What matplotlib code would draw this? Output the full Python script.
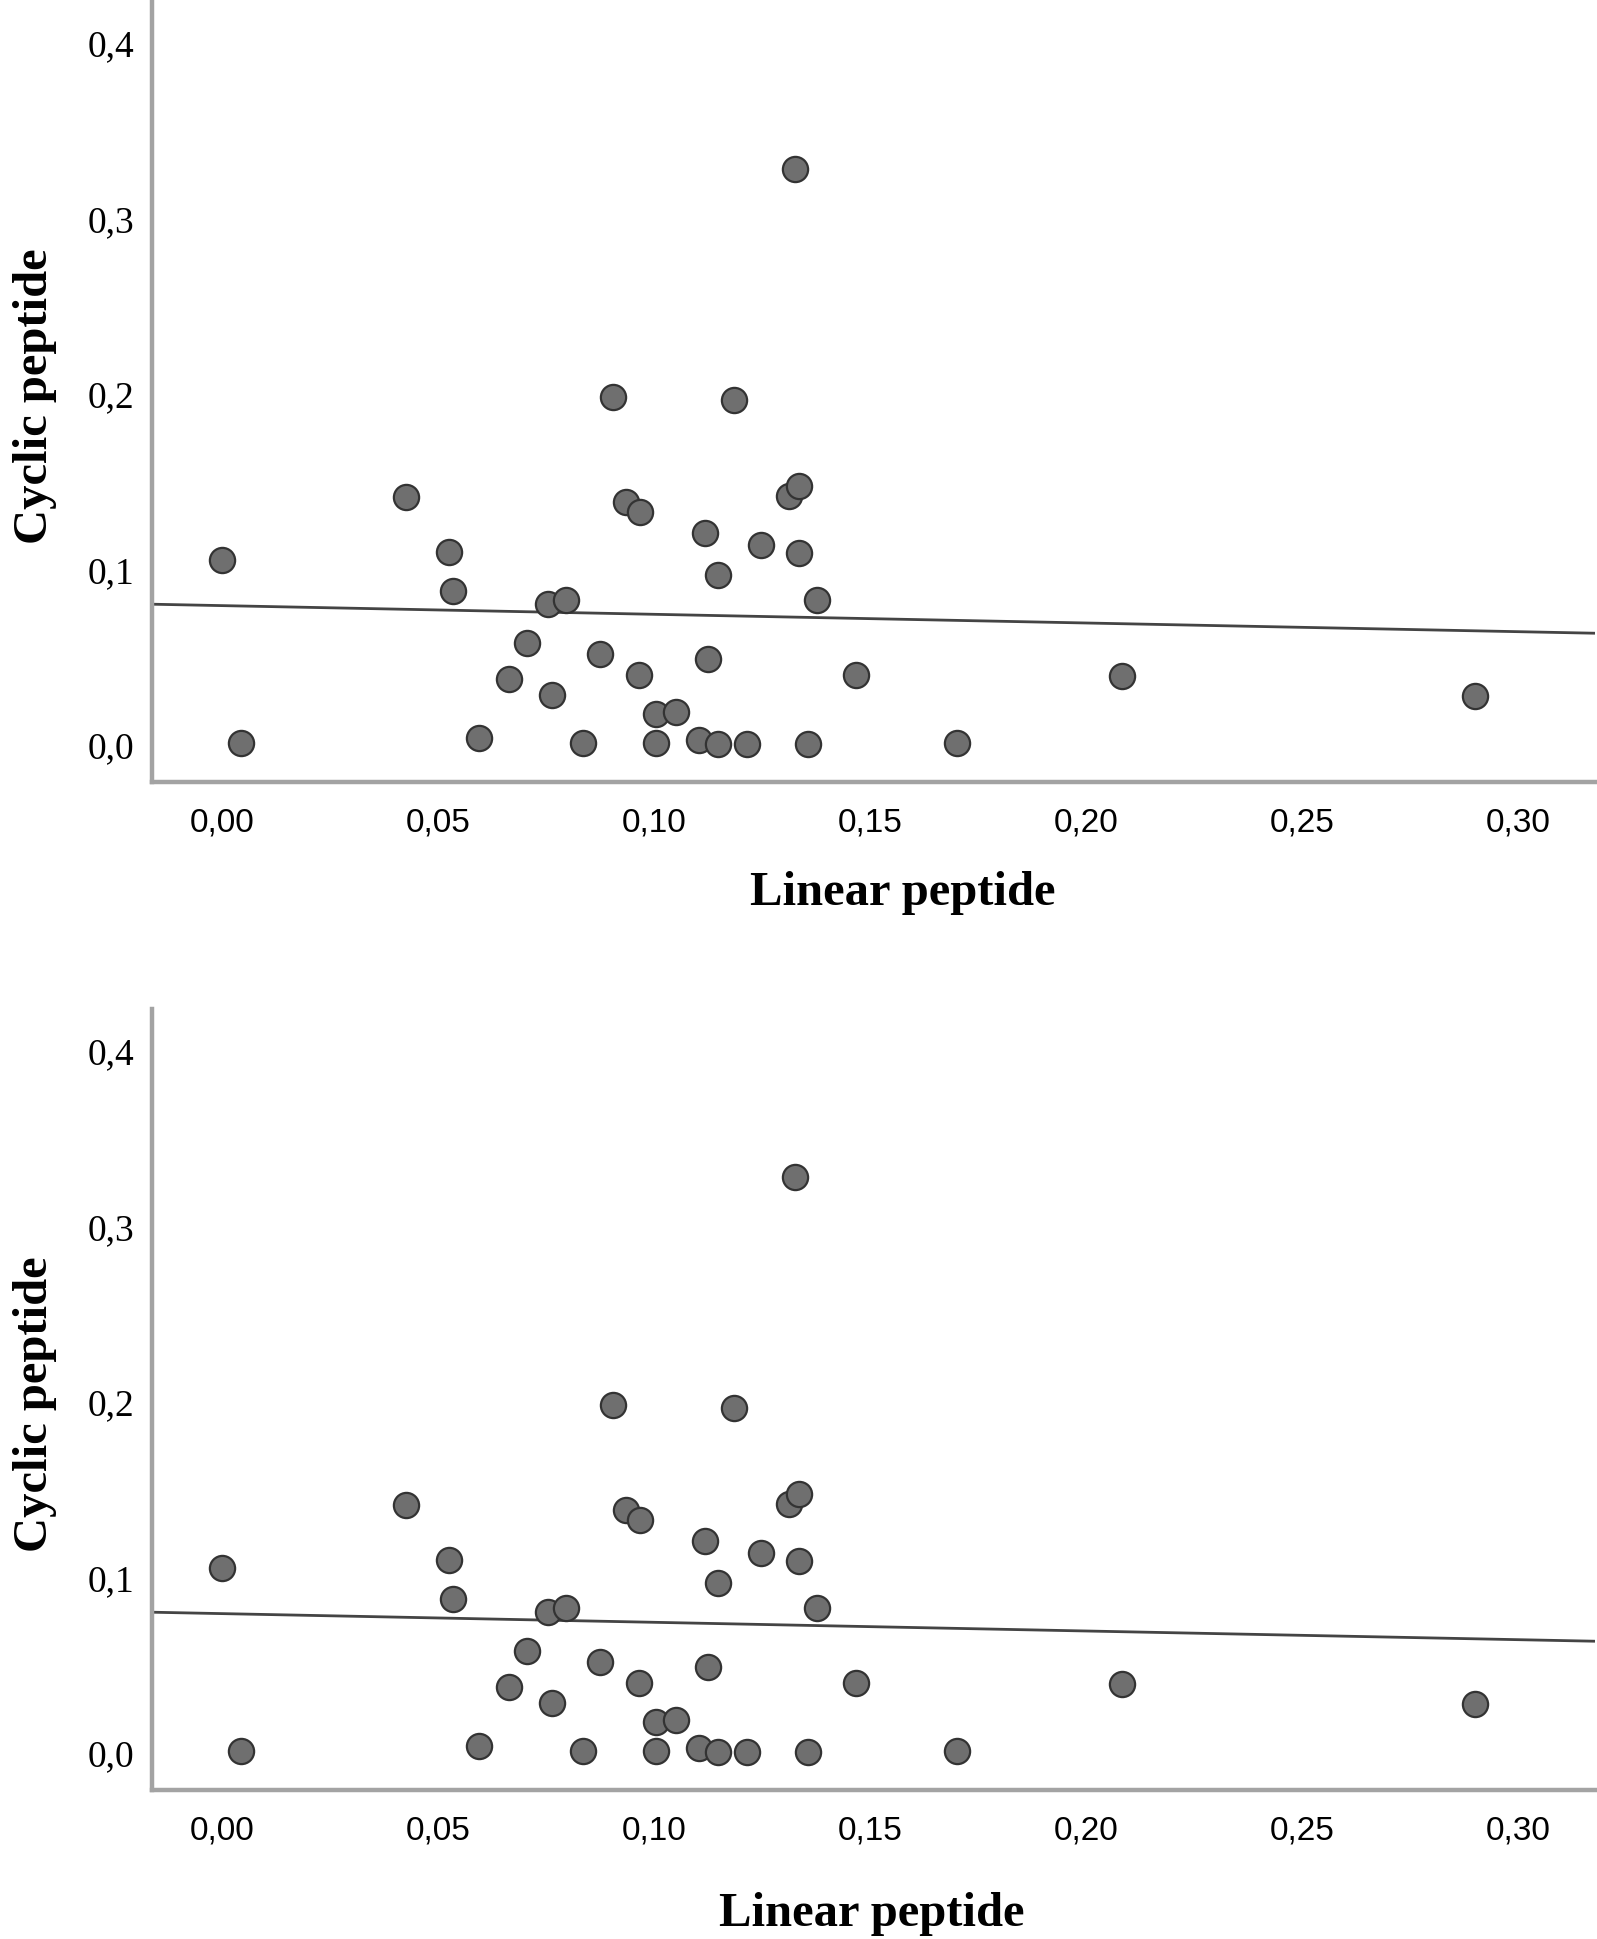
import matplotlib
matplotlib.use("Agg")
import matplotlib.pyplot as plt
import numpy as np

# ---- data ----
linear_peptide = [0.000, 0.0044, 0.0425, 0.0525, 0.0535, 0.0596, 0.0665, 0.0705,
                  0.0755, 0.0796, 0.0765, 0.0835, 0.0875, 0.0906, 0.0935, 0.0968,
                  0.0966, 0.1005, 0.1051, 0.1005, 0.1105, 0.1117, 0.1126, 0.1147,
                  0.1147, 0.1185, 0.1216, 0.1247, 0.1313, 0.1336, 0.1326, 0.1336,
                  0.1357, 0.1377, 0.1468, 0.1702, 0.2083, 0.2900]
cyclic_peptide = [0.105, 0.001, 0.1408, 0.1095, 0.0876, 0.0038, 0.0374, 0.0575,
                  0.0797, 0.0820, 0.0283, 0.0006, 0.0516, 0.1979, 0.1379, 0.1324,
                  0.0394, 0.0175, 0.0184, 0.0006, 0.0025, 0.1205, 0.0484, 0.0964,
                  0.0004, 0.1960, 0.0004, 0.1138, 0.1413, 0.1470, 0.3277, 0.1087,
                  0.0004, 0.0820, 0.0394, 0.0010, 0.0389, 0.0273]
fit_intercept = 0.0790
fit_slope = -0.0495

x_ticks = [0.00, 0.05, 0.10, 0.15, 0.20, 0.25, 0.30]
x_tick_labels = ["0,00", "0,05", "0,10", "0,15", "0,20", "0,25", "0,30"]
y_ticks = [0.0, 0.1, 0.2, 0.3, 0.4]
y_tick_labels = ["0,0", "0,1", "0,2", "0,3", "0,4"]
x_title = "Linear peptide"
y_title = "Cyclic peptide"

# ---- figure ----
W, H = 1597, 1940
fig = plt.figure(figsize=(W / 100, H / 100), dpi=100)

xlim = (-0.0162, 0.3178)
ylim = (-0.0215, 0.4235)

spine_col = "#a3a3a3"
face_col = "#6f6f6f"
edge_col = "#333333"

def px_rect(left, top, right, bottom):
    return [left / W, 1 - bottom / H, (right - left) / W, (bottom - top) / H]

panels = [
    dict(rect=px_rect(152, 2, 1595, 783), xlab=(903, 893), ylab=(35, 396)),
    dict(rect=px_rect(152, 1010, 1595, 1791), xlab=(872, 1914), ylab=(35, 1404)),
]

for p in panels:
    ax = fig.add_axes(p["rect"])
    ax.set_xlim(*xlim)
    ax.set_ylim(*ylim)
    for s in ("top", "right"):
        ax.spines[s].set_visible(False)
    for s in ("left", "bottom"):
        ax.spines[s].set_color(spine_col)
        ax.spines[s].set_linewidth(3.2)
    ax.set_xticks(x_ticks)
    ax.set_xticklabels(x_tick_labels, fontfamily="Liberation Sans", fontsize=24)
    ax.set_yticks(y_ticks)
    ax.set_yticklabels(y_tick_labels, fontfamily="Liberation Serif", fontsize=27)
    ax.tick_params(axis="x", length=0, pad=18)
    ax.tick_params(axis="y", length=0, pad=13)

    xs = np.array(xlim)
    ax.plot(xs, fit_intercept + fit_slope * xs, color="#444444", lw=2.0,
            solid_capstyle="butt", zorder=2)
    ax.scatter(linear_peptide, cyclic_peptide, s=330, c=face_col,
               edgecolors=edge_col, linewidths=1.6, zorder=3, clip_on=False)

    fig.text(p["xlab"][0] / W, 1 - p["xlab"][1] / H, x_title,
             fontfamily="Liberation Serif", fontweight="bold", fontsize=35,
             ha="center", va="center")
    fig.text(p["ylab"][0] / W, 1 - p["ylab"][1] / H, y_title,
             fontfamily="Liberation Serif", fontweight="bold", fontsize=35,
             ha="center", va="center", rotation=90)

fig.savefig("out.png", dpi=100, facecolor="white")
